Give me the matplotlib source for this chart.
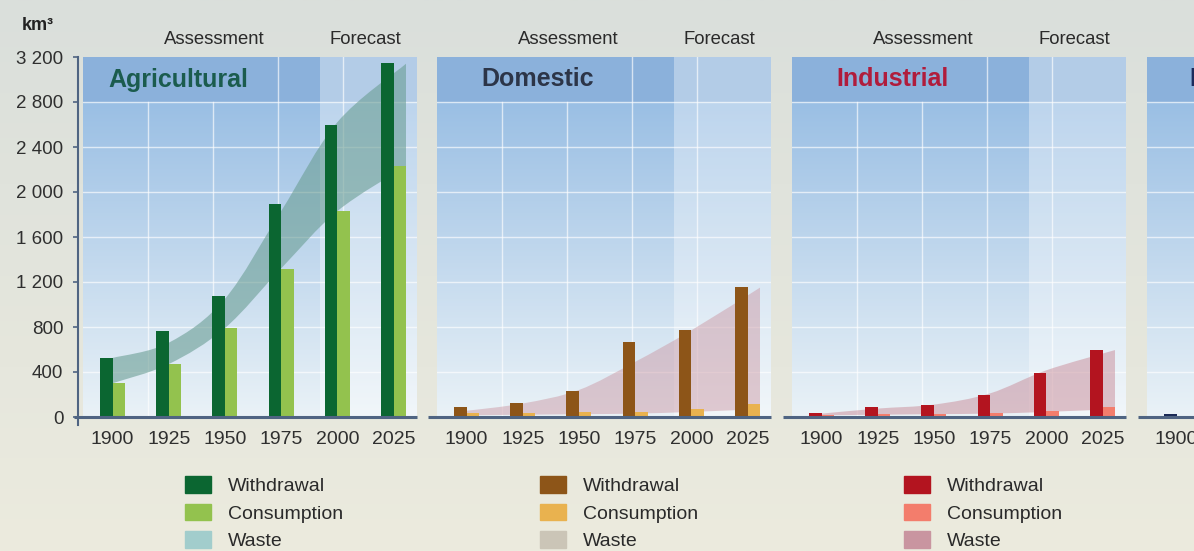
import numpy as np
import matplotlib.pyplot as plt
from matplotlib.path import Path
from matplotlib.patches import PathPatch, Patch
from matplotlib.colors import LinearSegmentedColormap
from matplotlib.ticker import FuncFormatter

plt.rcParams["font.family"] = ["Liberation Sans", "DejaVu Sans"]

# water use by sector, km3 per year
years = [1900, 1925, 1950, 1975, 2000, 2025]
year_labels = ["1900", "1925", "1950", "1975", "2000", "2025"]
legend_labels = ["Withdrawal", "Consumption", "Waste"]

agri_withdrawal = [525, 765, 1080, 1895, 2600, 3150]
agri_consumption = [300, 475, 795, 1320, 1830, 2230]
agri_waste_top = [525, 660, 1050, 1830, 2620, 3140]
agri_waste_bottom = [300, 470, 790, 1320, 1830, 2230]

dom_withdrawal = [85, 128, 235, 665, 770, 1160]
dom_consumption = [35, 40, 45, 45, 75, 115]
dom_waste_top = [55, 120, 240, 490, 770, 1150]
dom_waste_bottom = [15, 20, 25, 30, 45, 70]

ind_withdrawal = [40, 85, 110, 195, 395, 600]
ind_consumption = [20, 25, 30, 35, 50, 85]
ind_waste_top = [30, 75, 110, 210, 415, 595]
ind_waste_bottom = [15, 20, 25, 30, 45, 70]

res_years = [1900]
res_withdrawal = [25]

W, H = 1194, 551
PPY = 2.248            # pixels per year on every panel
BW = 12.5 / PPY        # bar width in years
FORECAST_FROM = 1992.5
YMAX = 3200
HEADER = 2800


def smooth_nodes(xs, ys):
    # cubic Bezier segments through every node (Catmull-Rom tangents)
    pts = np.column_stack([np.asarray(xs, float), np.asarray(ys, float)])
    n = len(pts)
    verts = []
    for i in range(n - 1):
        p0, p1 = pts[max(i - 1, 0)], pts[i]
        p2, p3 = pts[i + 1], pts[min(i + 2, n - 1)]
        verts += [p1 + (p2 - p0) / 6, p2 - (p3 - p1) / 6, p2]
    return pts, verts


def waste_band(ax, top, bottom, color, alpha):
    xs = list(years[:-1]) + [years[-1] + BW]
    tp, tv = smooth_nodes(xs, top)
    bp, bv = smooth_nodes(xs[::-1], bottom[::-1])
    verts = [tp[0]] + tv + [bp[0]] + bv + [tp[0]]
    codes = ([Path.MOVETO] + [Path.CURVE4] * len(tv) + [Path.LINETO]
             + [Path.CURVE4] * len(bv) + [Path.CLOSEPOLY])
    ax.add_patch(PathPatch(Path(verts, codes), facecolor=color, edgecolor="none",
                           alpha=alpha, zorder=2))


fig = plt.figure(figsize=(W / 100, H / 100), dpi=100)

# page background
bg = fig.add_axes([0, 0, 1, 1], zorder=-10)
page = LinearSegmentedColormap.from_list("page", ["#ecebde", "#dadfdb"])
bg.imshow(np.linspace(0, 1, 256).reshape(-1, 1), cmap=page, origin="lower",
          extent=[0, 1, 0, 1], aspect="auto")
bg.set_axis_off()

fig.text(22 / W, 1 - 26 / H, "km³", fontsize=13, fontweight="bold",
         color="#222222", va="center", ha="left")

sky = LinearSegmentedColormap.from_list("sky", ["#eaf2f7", "#9abfe4"])

panels = [
    dict(title="Agricultural", tcolor="#1b5c4e", left=83, tx=0.285,
         w=agri_withdrawal, c=agri_consumption, top=agri_waste_top, bot=agri_waste_bottom,
         colors=["#0b6631", "#93c24e", "#a2cdcc"], band="#6b9e94", balpha=0.6, lx=0.305),
    dict(title="Domestic", tcolor="#2c3548", left=437, tx=0.3,
         w=dom_withdrawal, c=dom_consumption, top=dom_waste_top, bot=dom_waste_bottom,
         colors=["#8d5518", "#e9b24f", "#cbc5b7"], band="#c9929e", balpha=0.45, lx=0.308),
    dict(title="Industrial", tcolor="#b01c3c", left=792, tx=0.3,
         w=ind_withdrawal, c=ind_consumption, top=ind_waste_top, bot=ind_waste_bottom,
         colors=["#b3141f", "#f37d6c", "#c995a0"], band="#c98b98", balpha=0.5, lx=0.335),
    dict(title="Reservoirs", tcolor="#1c2b5c", left=1147, tx=0.322,
         w=None, colors=["#1a2a55"]),
]

panel_w = 334
bottom_px, top_px = 417, 57

for i, p in enumerate(panels):
    ax = fig.add_axes([p["left"] / W, 1 - bottom_px / H,
                       panel_w / W, (bottom_px - top_px) / H])
    x0 = 1900 - 29.5 / PPY
    x1 = x0 + panel_w / PPY

    # panel background, header strip and forecast shading
    ax.imshow(np.linspace(0, 1, 256).reshape(-1, 1), cmap=sky, origin="lower",
              extent=[x0, x1, 0, HEADER], aspect="auto", zorder=0)
    ax.axhspan(HEADER, YMAX, color="#8bb1db", zorder=0.1, lw=0)
    ax.axvspan(FORECAST_FROM, x1, color="white", alpha=0.35, zorder=0.2, lw=0)

    for v in range(400, HEADER + 1, 400):
        ax.axhline(v, color="white", lw=1, alpha=0.65, zorder=0.3)
    for k in range(1, 5):
        ax.axvline(x0 + k * 65 / PPY, ymax=1 if k > 2 else HEADER / YMAX,
                   color="white", lw=1, alpha=0.65, zorder=0.3)

    if p["w"] is not None:
        waste_band(ax, p["top"], p["bot"], p["band"], p["balpha"])
        ax.bar(years, p["w"], width=-BW, align="edge", color=p["colors"][0], zorder=3)
        ax.bar(years, p["c"], width=BW, align="edge", color=p["colors"][1], zorder=3)
        ax.legend([Patch(color=c) for c in p["colors"]], legend_labels,
                  loc="upper left", bbox_to_anchor=(p["lx"], -0.165), frameon=False,
                  fontsize=14, handlelength=1.35, handleheight=0.95, handletextpad=0.85,
                  labelspacing=0.42, borderpad=0, borderaxespad=0, labelcolor="#2a2a2a")
        trans = ax.get_xaxis_transform()
        ax.text(x0 + 131 / PPY, 1.05, "Assessment", transform=trans, fontsize=13.3,
                color="#2a2a2a", ha="center", va="center")
        ax.text(x0 + 282 / PPY, 1.05, "Forecast", transform=trans, fontsize=13.3,
                color="#2a2a2a", ha="center", va="center")
    else:
        ax.bar(res_years, res_withdrawal, width=-BW, align="edge",
               color=p["colors"][0], zorder=3)

    ax.set_xlim(x0, x1)
    ax.set_ylim(0, YMAX)

    ax.text(x0 + p["tx"] * panel_w / PPY, 3000, p["title"], fontsize=18,
            fontweight="bold", color=p["tcolor"], ha="center", va="center", zorder=5)

    # base line
    ax.plot([x0 - 9 / PPY, x1], [0, 0], color="#4f6482", lw=2.2,
            solid_capstyle="butt", clip_on=False, zorder=4)

    for s in ["top", "right", "bottom", "left"]:
        ax.spines[s].set_visible(False)
    ax.set_xticks(years, year_labels)
    ax.tick_params(axis="x", length=0, pad=10, labelsize=14, labelcolor="#2f2f2f")

    if i == 0:
        ax.spines["left"].set_visible(True)
        ax.spines["left"].set_position(("outward", 3.6))
        ax.spines["left"].set_bounds(-70, YMAX)
        ax.spines["left"].set_color("#4f6482")
        ax.spines["left"].set_linewidth(1.5)
        ax.set_yticks(range(0, YMAX + 1, 400))
        ax.yaxis.set_major_formatter(
            FuncFormatter(lambda v, _: f"{int(v):,}".replace(",", " ")))
        ax.tick_params(axis="y", length=3.6, width=1.2, color="#4f6482", pad=7,
                       labelsize=13.5, labelcolor="#2f2f2f")
    else:
        ax.tick_params(axis="y", left=False, labelleft=False)

fig.savefig("out.png", dpi=100)
